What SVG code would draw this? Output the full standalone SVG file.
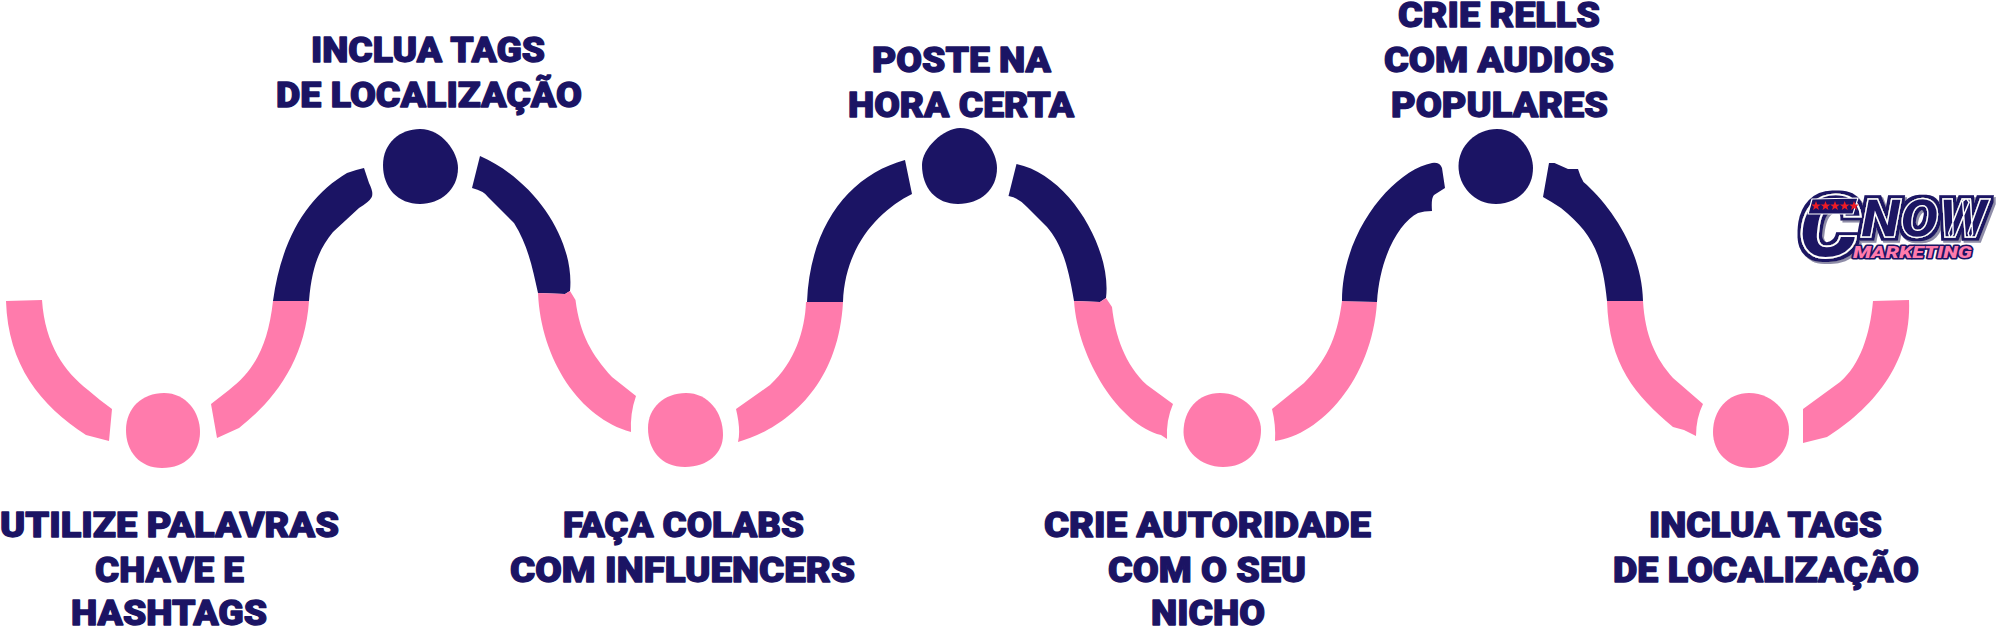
<svg xmlns="http://www.w3.org/2000/svg" width="2000" height="628" viewBox="0 0 2000 628">
<style>
.n{fill:#1b1464}.p{fill:#ff7bac}
.t{font-family:"Roboto","Liberation Sans",sans-serif;font-weight:900;font-size:35px;fill:#1b1464;stroke:#1b1464;stroke-width:1.3px;stroke-linejoin:round}
.lg{font-family:"Roboto","Liberation Sans",sans-serif;font-weight:900;font-style:italic}
</style>
<defs>
<path id="star" d="M0,-5 L1.3,-1.6 L4.8,-1.5 L2,.7 L3,4.1 L0,2.1 L-3,4.1 L-2,.7 L-4.8,-1.5 L-1.3,-1.6Z" fill="#ee1c25"/>
<filter id="lgf" x="-20%" y="-20%" width="140%" height="140%">
<feMorphology in="SourceAlpha" operator="dilate" radius="3.2" result="d"/>
<feOffset in="d" dx="2" dy="2" result="o"/>
<feFlood flood-color="#8f8da8"/><feComposite in2="o" operator="in" result="sh"/>
<feFlood flood-color="#1b1464"/><feComposite in2="d" operator="in" result="b"/>
<feMerge><feMergeNode in="sh"/><feMergeNode in="b"/><feMergeNode in="SourceGraphic"/></feMerge>
</filter>
</defs>
<rect width="2000" height="628" fill="#fff"/>
<g id="connectors">
<path class="p" d="M6,301 C8,365 40,405 86,435 L109,441 L112,409 L100,400 L88,390 C65,372 45,345 42,300Z"/>
<path class="p" d="M211,404 L217,438 L239,428 C275,400 305,360 309,301 L273,301 C268,345 255,370 229,390Z"/>
<path class="n" d="M273,301 C282,235 310,195 347,173 Q355,170 364,168 L369,183 Q374,193 371.5,197.5 Q369,202 359,208 L333,232 C320,248 312,265 309,301Z"/>
<path class="n" d="M480,156 L472,188 Q484,191 488,197 L514,223 C528,245 533,270 538,293 L565,294 L570,291 C575,240 535,180 480,156Z"/>
<path class="p" d="M538,293 C541,360 580,418 631,432 Q630,413 636,396 L612,377 C592,355 580,335 575.5,300 L570,291 L565,294Z"/>
<path class="p" d="M736,409 Q741,430 738,442 C775,432 838,395 843,302 L806,302 C805,330 795,362 770,385Z"/>
<path class="n" d="M807,302 C810,225 850,175 905,160 L912,194 C880,210 845,245 843,302Z"/>
<path class="n" d="M1016.5,164 L1008.5,196 Q1019,198 1027,207 L1047,227 C1062,245 1068,265 1074,301 L1100,302 L1106,298 C1112,250 1070,175 1016.5,164Z"/>
<path class="p" d="M1074,301 C1078,360 1120,425 1161,435 L1167,439 Q1166,420 1173,404 L1147,385 C1125,365 1115,335 1112,307 L1106,298 L1100,302Z"/>
<path class="p" d="M1272,409 Q1276,425 1275,441 C1320,435 1372,380 1377,302 L1342,301 C1337,340 1325,362 1304,383Z"/>
<path class="n" d="M1342,301 C1342,230 1395,170 1432,163 Q1440,162 1442,168 L1445,188 L1434,195 Q1431,198 1432,211 Q1424,211 1418,213 C1400,222 1380,255 1377,302Z"/>
<path class="n" d="M1549,163 L1543,197 Q1552,202 1561,208 C1590,232 1602,250 1607,301 L1643,301 C1642,250 1610,205 1583.5,182 Q1580,176 1578,169 L1568,169 L1554.5,163Z"/>
<path class="p" d="M1607,301 C1609,365 1635,395 1673,427 L1684,430 L1696,436 Q1696,418 1703,404 L1673,378 C1655,358 1645,335 1643,301Z"/>
<path class="p" d="M1803,409 L1803,443 L1827,437 C1870,410 1912,365 1909,300 L1873,301 C1870,335 1860,365 1840,382Z"/>
</g>
<g id="node-1">
<path class="p" d="M164,393 C186,393 200,412 200,432 C200,452 186,468 162,468 C140,468 126,452 126,430 C126,408 142,393 164,393Z"/>
<text class="t" x="0" y="537" textLength="339" lengthAdjust="spacingAndGlyphs">UTILIZE PALAVRAS</text>
<text class="t" x="95" y="582" textLength="149" lengthAdjust="spacingAndGlyphs">CHAVE E</text>
<text class="t" x="71" y="625" textLength="196" lengthAdjust="spacingAndGlyphs">HASHTAGS</text>
</g>
<g id="node-2">
<path class="n" d="M420,129 C442,129 458,152 458,168 C458,190 440,204 420,204 C398,204 383,188 383,165 C383,143 400,129 420,129Z"/>
<text class="t" x="311" y="62" textLength="234" lengthAdjust="spacingAndGlyphs">INCLUA TAGS</text>
<text class="t" x="276" y="107" textLength="306" lengthAdjust="spacingAndGlyphs">DE LOCALIZAÇÃO</text>
</g>
<g id="node-3">
<path class="p" d="M686,393 C708,393 723,412 723,435 C723,453 708,467 685,467 C661,467 648,450 648,428 C648,408 664,393 686,393Z"/>
<text class="t" x="563" y="537" textLength="241" lengthAdjust="spacingAndGlyphs">FAÇA COLABS</text>
<text class="t" x="510" y="582" textLength="345" lengthAdjust="spacingAndGlyphs">COM INFLUENCERS</text>
</g>
<g id="node-4">
<path class="n" d="M960,128 C982,128 997,152 997,168 C997,190 980,204 958,204 C936,204 922,188 922,165 C922,148 944,128 960,128Z"/>
<text class="t" x="872" y="72" textLength="179" lengthAdjust="spacingAndGlyphs">POSTE NA</text>
<text class="t" x="848" y="117" textLength="226" lengthAdjust="spacingAndGlyphs">HORA CERTA</text>
</g>
<g id="node-5">
<path class="p" d="M1220,393 C1243,393 1261,412 1261,430 C1261,452 1246,467 1223,467 C1200,467 1183.5,450 1183.5,432 C1183.5,410 1198,393 1220,393Z"/>
<text class="t" x="1044" y="537" textLength="327" lengthAdjust="spacingAndGlyphs">CRIE AUTORIDADE</text>
<text class="t" x="1108" y="582" textLength="198" lengthAdjust="spacingAndGlyphs">COM O SEU</text>
<text class="t" x="1151" y="625" textLength="114" lengthAdjust="spacingAndGlyphs">NICHO</text>
</g>
<g id="node-6">
<path class="n" d="M1497,129 C1518,129 1533,150 1533,168 C1533,190 1516,204 1496,204 C1474,204 1458.5,186 1458.5,166 C1458.5,146 1476,129 1497,129Z"/>
<text class="t" x="1398" y="27" textLength="202" lengthAdjust="spacingAndGlyphs">CRIE RELLS</text>
<text class="t" x="1384" y="72" textLength="230" lengthAdjust="spacingAndGlyphs">COM AUDIOS</text>
<text class="t" x="1391" y="117" textLength="217" lengthAdjust="spacingAndGlyphs">POPULARES</text>
</g>
<g id="node-7">
<path class="p" d="M1749,393 C1772,393 1789,412 1789,430 C1789,452 1773,468 1751,468 C1728,468 1713,452 1713,432 C1713,410 1728,393 1749,393Z"/>
<text class="t" x="1649" y="537" textLength="233" lengthAdjust="spacingAndGlyphs">INCLUA TAGS</text>
<text class="t" x="1613" y="582" textLength="306" lengthAdjust="spacingAndGlyphs">DE LOCALIZAÇÃO</text>
</g>
<g id="logo">
<g class="lg" filter="url(#lgf)">
<text x="1798" y="257" font-size="86" textLength="62" lengthAdjust="spacingAndGlyphs" fill="#1b1464" stroke="#fff" stroke-width="1.8">C</text>
<text x="1861" y="237" font-size="54" textLength="126" lengthAdjust="spacingAndGlyphs" fill="#1b1464" stroke="#fff" stroke-width="1.3">NOW</text>
</g>
<text class="lg" x="1853" y="258" font-size="17" textLength="119" lengthAdjust="spacingAndGlyphs" fill="#ff7bac" stroke="#1b1464" stroke-width="3" paint-order="stroke" stroke-linejoin="round">MARKETING</text>
<path d="M1812,199 L1858,198 L1853,214 L1808,214Z" fill="#1b1464" stroke="#fff" stroke-width="1.2" stroke-linejoin="round"/>
<use href="#star" x="1816" y="206"/>
<use href="#star" x="1825.5" y="206"/>
<use href="#star" x="1835" y="206"/>
<use href="#star" x="1844.7" y="206"/>
<use href="#star" x="1854" y="206"/>
</g>
</svg>
